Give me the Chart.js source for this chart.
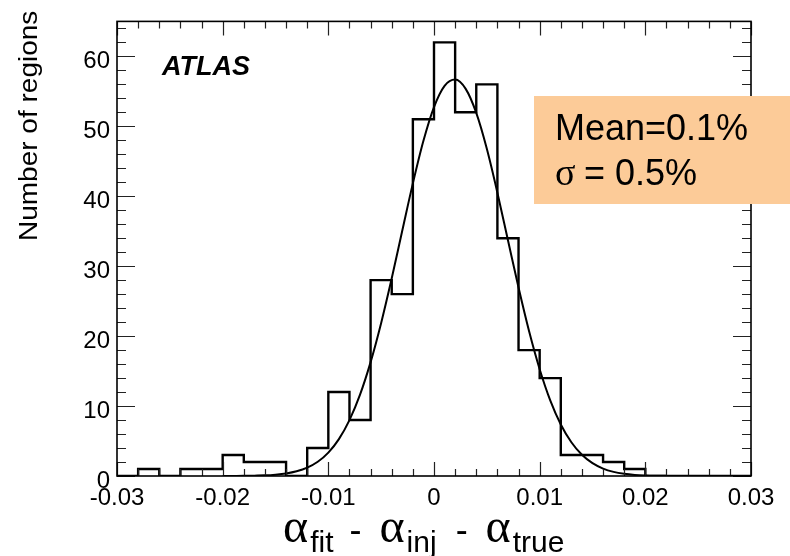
<!DOCTYPE html>
<html>
<head>
<meta charset="utf-8">
<script src="https://cdn.jsdelivr.net/npm/chart.js@4.4.1/dist/chart.umd.min.js"></script>
<style>
  html, body { margin: 0; padding: 0; background: #fff; }
  #wrap { width: 790px; height: 556px; }
</style>
</head>
<body>
<div id="wrap"><canvas id="chart" width="790" height="556"></canvas></div>
<script>
// histogram bins (edges, width 0.002) and counts per bin
const binEdges = [-0.030, -0.028, -0.026, -0.024, -0.022, -0.020, -0.018, -0.016, -0.014, -0.012,
                  -0.010, -0.008, -0.006, -0.004, -0.002, 0.000, 0.002, 0.004, 0.006, 0.008,
                  0.010, 0.012, 0.014, 0.016, 0.018, 0.020, 0.022, 0.024, 0.026, 0.028, 0.030];
const binCounts = [0, 1, 0, 1, 1, 3, 2, 2, 0, 4,
                   12, 8, 28, 26, 51, 62, 52, 56, 34, 18,
                   14, 3, 3, 2, 1, 0, 0, 0, 0, 0];

// gaussian fit curve
const fitX = [-0.020, -0.019, -0.018, -0.017, -0.016, -0.015, -0.014, -0.013, -0.012, -0.011,
              -0.010, -0.009, -0.008, -0.007, -0.006, -0.005, -0.004, -0.003, -0.002, -0.001,
              0.000, 0.001, 0.002, 0.003, 0.004, 0.005, 0.006, 0.007, 0.008, 0.009,
              0.010, 0.011, 0.012, 0.013, 0.014, 0.015, 0.016, 0.017, 0.018, 0.019,
              0.020, 0.021, 0.022];
const fitY = [0.00, 0.01, 0.02, 0.05, 0.09, 0.19, 0.36, 0.67, 1.19, 2.03,
              3.34, 5.27, 7.99, 11.63, 16.28, 21.89, 28.27, 35.09, 41.84, 47.93,
              52.75, 55.79, 56.69, 55.35, 51.91, 46.78, 40.51, 33.70, 26.94, 20.69,
              15.27, 10.82, 7.37, 4.82, 3.03, 1.83, 1.06, 0.59, 0.32, 0.16,
              0.08, 0.04, 0.02];

// axis ticks
const xTickValues = [-0.03, -0.02, -0.01, 0, 0.01, 0.02, 0.03];
const xTickLabels = ['-0.03', '-0.02', '-0.01', '0', '0.01', '0.02', '0.03'];
const yTickValues = [0, 10, 20, 30, 40, 50, 60];
const yTickLabels = ['0', '10', '20', '30', '40', '50', '60'];
const xMinorStep = 0.002;
const yMinorStep = 2;

const SANS = '"Liberation Sans", Arial, Helvetica, sans-serif';
const SERIF = '"Liberation Serif", "Times New Roman", serif';

// histogram outline: one point per bin edge, stepped
const histPoints = binEdges.map((e, i) => ({ x: e, y: i < binCounts.length ? binCounts[i] : 0 }));
const fitPoints = fitX.map((x, i) => ({ x: x, y: fitY[i] }));

// ROOT-like frame with inward ticks on all four sides
const framePlugin = {
  id: 'frame',
  afterDatasetsDraw(chart) {
    const { ctx, chartArea: a, scales } = chart;
    const xs = scales.x, ys = scales.y;
    ctx.save();
    ctx.strokeStyle = '#222';
    ctx.lineWidth = 1.2;
    ctx.beginPath();
    const nx = Math.round((xs.max - xs.min) / xMinorStep);
    for (let i = 0; i <= nx; i++) {
      const v = xs.min + i * xMinorStep;
      const major = xTickValues.some(t => Math.abs(t - v) < 1e-9);
      const len = major ? 14 : 7;
      const px = Math.round(xs.getPixelForValue(v)) + 0.5;
      ctx.moveTo(px, a.bottom); ctx.lineTo(px, a.bottom - len);
      ctx.moveTo(px, a.top); ctx.lineTo(px, a.top + len);
    }
    for (let v = 0; v <= ys.max; v += yMinorStep) {
      const major = yTickValues.includes(v);
      const len = major ? 18 : 9;
      const py = Math.round(ys.getPixelForValue(v)) + 0.5;
      ctx.moveTo(a.left, py); ctx.lineTo(a.left + len, py);
      ctx.moveTo(a.right, py); ctx.lineTo(a.right - len, py);
    }
    ctx.stroke();
    ctx.strokeStyle = '#000';
    ctx.lineWidth = 1.6;
    ctx.strokeRect(a.left, a.top, a.right - a.left, a.bottom - a.top);
    ctx.restore();
  }
};

// labels, ATLAS tag and the stats box
const textPlugin = {
  id: 'texts',
  afterDraw(chart) {
    const ctx = chart.ctx;
    ctx.save();
    ctx.fillStyle = '#000';
    ctx.textBaseline = 'alphabetic';
    ctx.textAlign = 'left';

    // y title, drawn a bit stretched like the original
    ctx.save();
    ctx.translate(37, 241);
    ctx.rotate(-Math.PI / 2);
    ctx.scale(1.12, 1);
    ctx.font = '25px ' + SANS;
    ctx.fillText('Number of regions', 0, 0);
    ctx.restore();

    // x title: alpha_fit - alpha_inj - alpha_true
    const greek = '48px ' + SERIF;
    const sub = '30px ' + SANS;
    const dash = '36px ' + SANS;
    const parts = [
      ['\u03b1', greek, 0, 2], ['fit', sub, 10, 16],
      ['-', dash, 0, 18], ['\u03b1', greek, 0, 2], ['inj', sub, 10, 19],
      ['-', dash, 0, 18], ['\u03b1', greek, 0, 2], ['true', sub, 10, 0]
    ];
    let x = 283;
    for (const [t, f, dy, gap] of parts) {
      ctx.font = f;
      ctx.fillText(t, x, 542 + dy);
      x += ctx.measureText(t).width + gap;
    }

    // ATLAS
    ctx.font = 'italic bold 27px ' + SANS;
    ctx.fillText('ATLAS', 162, 75);

    // stats box
    ctx.fillStyle = '#fccb98';
    ctx.fillRect(534, 96, 256, 108);
    ctx.fillStyle = '#000';
    ctx.font = '36px ' + SANS;
    ctx.fillText('Mean=0.1%', 555, 140);
    ctx.font = '38px ' + SERIF;
    ctx.fillText('\u03c3', 555, 185);
    ctx.font = '36px ' + SANS;
    ctx.fillText(' = 0.5%', 574, 185);
    ctx.restore();
  }
};

new Chart(document.getElementById('chart').getContext('2d'), {
  type: 'line',
  data: {
    datasets: [
      {
        label: 'regions',
        data: histPoints,
        stepped: 'before',
        borderColor: '#000',
        borderWidth: 2.4,
        pointRadius: 0,
        fill: false
      },
      {
        label: 'fit',
        data: fitPoints,
        borderColor: '#000',
        borderWidth: 2,
        pointRadius: 0,
        cubicInterpolationMode: 'monotone',
        fill: false
      }
    ]
  },
  options: {
    responsive: false,
    animation: false,
    layout: { padding: { top: 13, right: 39, left: 0, bottom: 0 } },
    plugins: {
      legend: { display: false },
      tooltip: { enabled: false }
    },
    scales: {
      x: {
        type: 'linear',
        min: -0.03,
        max: 0.03,
        grid: { display: false, drawTicks: false },
        border: { display: false },
        afterBuildTicks: s => { s.ticks = xTickValues.map(v => ({ value: v })); },
        afterFit: s => { s.height = 80; },
        ticks: {
          callback: (v, i) => xTickLabels[i],
          font: { family: SANS, size: 24 },
          color: '#000',
          padding: 8,
          maxRotation: 0,
          autoSkip: false
        }
      },
      y: {
        min: 0,
        max: 65,
        grid: { display: false, drawTicks: false },
        border: { display: false },
        afterBuildTicks: s => { s.ticks = yTickValues.map(v => ({ value: v })); },
        afterFit: s => { s.width = 117; },
        ticks: {
          callback: (v, i) => yTickLabels[i],
          font: { family: SANS, size: 24 },
          color: '#000',
          padding: 7,
          labelOffset: 5,
          autoSkip: false
        }
      }
    }
  },
  plugins: [framePlugin, textPlugin]
});
</script>
</body>
</html>
